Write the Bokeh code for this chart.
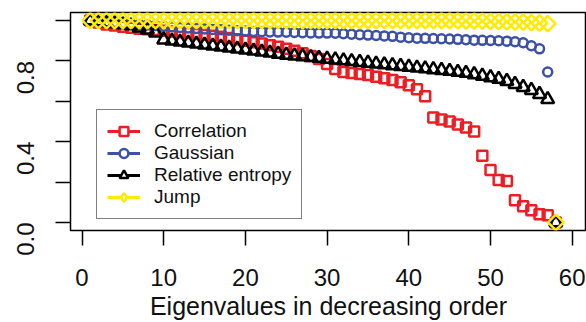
import math
from bokeh.plotting import figure
from bokeh.models import Range1d, FixedTicker, Legend, LegendItem
from bokeh.embed import file_html
from bokeh.resources import INLINE

# ---- data ----
eigen_index = [1, 2, 3, 4, 5, 6, 7, 8, 9, 10,
               11, 12, 13, 14, 15, 16, 17, 18, 19, 20,
               21, 22, 23, 24, 25, 26, 27, 28, 29, 30,
               31, 32, 33, 34, 35, 36, 37, 38, 39, 40,
               41, 42, 43, 44, 45, 46, 47, 48, 49, 50,
               51, 52, 53, 54, 55, 56, 57, 58]

correlation = [1.00, 0.99, 0.98, 0.975, 0.97, 0.965, 0.96, 0.957, 0.953, 0.95,
               0.946, 0.942, 0.938, 0.934, 0.93, 0.925, 0.92, 0.914, 0.908, 0.90,
               0.893, 0.886, 0.878, 0.87, 0.86, 0.85, 0.838, 0.825, 0.81, 0.785,
               0.76, 0.745, 0.74, 0.735, 0.73, 0.722, 0.714, 0.705, 0.695, 0.68,
               0.66, 0.625, 0.52, 0.51, 0.50, 0.485, 0.47, 0.45, 0.33, 0.26,
               0.21, 0.205, 0.11, 0.08, 0.06, 0.04, 0.035, 0.0]

gaussian = [1.0, 0.997, 0.993, 0.99, 0.987, 0.984, 0.981, 0.978, 0.975, 0.972,
            0.969, 0.966, 0.963, 0.961, 0.958, 0.956, 0.954, 0.952, 0.95, 0.948,
            0.946, 0.945, 0.944, 0.943, 0.942, 0.941, 0.94, 0.939, 0.938, 0.938,
            0.937, 0.935, 0.932, 0.93, 0.928, 0.926, 0.924, 0.922, 0.918, 0.915,
            0.913, 0.912, 0.911, 0.91, 0.909, 0.907, 0.905, 0.903, 0.902, 0.901,
            0.90, 0.898, 0.895, 0.89, 0.875, 0.86, 0.745, 0.0]

relative_entropy = [1.0, 0.995, 0.99, 0.985, 0.98, 0.975, 0.965, 0.955, 0.94, 0.905,
                    0.90, 0.895, 0.89, 0.885, 0.88, 0.875, 0.87, 0.865, 0.86, 0.855,
                    0.85, 0.845, 0.84, 0.835, 0.83, 0.826, 0.822, 0.818, 0.814, 0.81,
                    0.806, 0.802, 0.798, 0.794, 0.79, 0.786, 0.782, 0.778, 0.774, 0.77,
                    0.766, 0.762, 0.758, 0.754, 0.75, 0.745, 0.74, 0.733, 0.726, 0.718,
                    0.71, 0.70, 0.685, 0.67, 0.655, 0.635, 0.61, 0.0]

jump = [1.0, 1.0, 1.0, 1.0, 1.0, 1.0, 1.0, 1.0, 1.0, 1.0,
        1.0, 1.0, 1.0, 1.0, 1.0, 1.0, 1.0, 1.0, 1.0, 1.0,
        1.0, 1.0, 1.0, 1.0, 1.0, 1.0, 1.0, 1.0, 1.0, 1.0,
        1.0, 1.0, 1.0, 1.0, 1.0, 1.0, 1.0, 1.0, 1.0, 1.0,
        1.0, 1.0, 1.0, 1.0, 1.0, 0.999, 0.998, 0.998, 0.997, 0.996,
        0.995, 0.994, 0.993, 0.992, 0.99, 0.988, 0.985, 0.0]

series_names = ["Correlation", "Gaussian", "Relative entropy", "Jump"]
x_ticks = [0, 10, 20, 30, 40, 50, 60]
y_ticks = [0, 0.2, 0.4, 0.6, 0.8, 1.0]
y_tick_labels = {0: "0.0", 0.2: "", 0.4: "0.4", 0.6: "", 0.8: "0.8", 1.0: ""}
x_title = "Eigenvalues in decreasing order"

# ---- styling ----
RED = "#EE1D23"
BLUE = "#3C50A8"
BLACK = "#000000"
YELLOW = "#FFEB00"
FONT = "Liberation Sans"
NAN = float("nan")

p = figure(width=586, height=322, output_backend="svg", toolbar_location=None,
           x_range=Range1d(-1.41, 61.75), y_range=Range1d(-0.04, 1.04),
           min_border_left=70, min_border_right=0, min_border_top=12,
           min_border_bottom=92)
p.grid.visible = False
p.outline_line_color = "black"
p.outline_line_width = 1.5
p.background_fill_color = "white"
p.border_fill_color = "white"

for ax in (p.xaxis[0], p.yaxis[0]):
    ax.axis_line_color = None
    ax.major_tick_out = 15
    ax.major_tick_in = 0
    ax.major_tick_line_width = 1.5
    ax.major_tick_line_color = "black"
    ax.minor_tick_line_color = None
    ax.major_label_text_font = FONT
    ax.major_label_text_font_size = "24px"
    ax.major_label_text_color = "#111111"

p.xaxis.ticker = FixedTicker(ticks=x_ticks)
p.yaxis.ticker = FixedTicker(ticks=y_ticks)
p.yaxis.major_label_overrides = y_tick_labels
p.yaxis.major_label_orientation = math.pi / 2
p.yaxis.major_label_standoff = 30
p.xaxis.major_label_standoff = 23
p.xaxis.axis_label = x_title
p.xaxis.axis_label_text_font = FONT
p.xaxis.axis_label_text_font_size = "25px"
p.xaxis.axis_label_text_font_style = "normal"
p.xaxis.axis_label_text_color = "#111111"
p.xaxis.axis_label_standoff = 3

# ---- points ----
p.scatter(eigen_index, correlation, marker="square", size=10,
          fill_color=None, line_color=RED, line_width=2.5)
p.scatter(eigen_index, gaussian, marker="circle", size=9,
          fill_color=None, line_color=BLUE, line_width=2.5)
p.scatter(eigen_index, relative_entropy, marker="triangle", size=13,
          fill_color=None, line_color=BLACK, line_width=2.5)
p.scatter(eigen_index, jump, marker="square", angle=math.pi / 4, size=11,
          fill_color=None, line_color=YELLOW, line_width=2.5)

# ---- legend (off-screen helper renderers for the line + marker keys) ----
legend_markers = ["square", "circle", "triangle", "diamond"]
colors = [RED, BLUE, BLACK, YELLOW]
items = []
for name, col, mk in zip(series_names, colors, legend_markers):
    ln = p.line(x=[NAN], y=[NAN], line_color=col, line_width=3)
    sc = p.scatter(x=[NAN], y=[NAN], marker=mk, fill_color="white",
                   line_color=col, line_width=2.5)
    items.append(LegendItem(label=name, renderers=[ln, sc]))

legend = Legend(items=items, location=(26, 11), padding=10, spacing=0,
                margin=0, glyph_width=33, glyph_height=22, label_height=20,
                label_standoff=14, label_text_font=FONT,
                label_text_font_size="19px", label_text_color="#111111",
                border_line_color="black", border_line_width=1.5,
                background_fill_color="white", background_fill_alpha=1.0)
p.add_layout(legend)

open("out.html", "w").write(file_html(p, INLINE))
